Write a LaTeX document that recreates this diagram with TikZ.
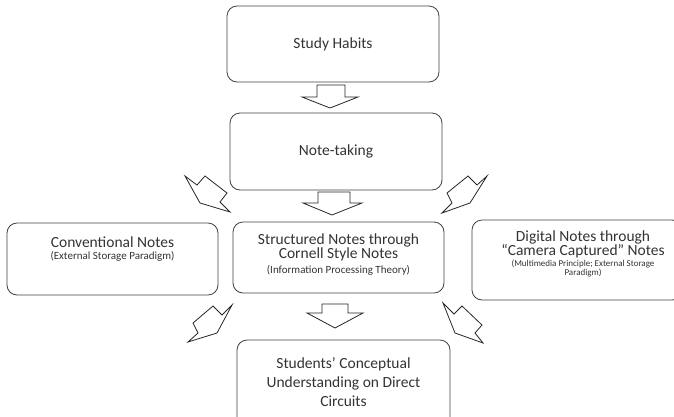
\documentclass[tikz,border=0pt]{standalone}
\usepackage{fontspec}
\setmainfont{Carlito}
\begin{document}
\begin{tikzpicture}[x=1pt,y=-1pt,
  box/.style={draw=black!75, line width=0.8pt, rounded corners=10pt, align=center, inner sep=0pt},
  blk/.style={draw=black!85, line width=0.8pt, fill=white, line join=miter},
  txt/.style={text=black!80, align=center, inner sep=0pt},
  big/.style={txt, font=\fontsize{15.5}{14}\selectfont},
  sm/.style={txt, font=\fontsize{11}{12}\selectfont},
  tiny/.style={txt, font=\fontsize{9}{9.5}\selectfont}]
\useasboundingbox (0,0) rectangle (674,416);
% boxes
\node[box, minimum width=212pt, minimum height=76pt] (study) at (333,44) {};
\node[big] at (study.center) {Study Habits};
\node[box, minimum width=212pt, minimum height=77pt] (note) at (336,151.5) {};
\node[big] at (note.center) {Note-taking};
\node[box, minimum width=211pt, minimum height=71pt] (struct) at (338.5,257.5) {};
\node[big] at (338.5,247) {Structured Notes through\\Cornell Style Notes};
\node[sm] at (338.5,270) {(Information Processing Theory)};
\node[box, minimum width=211pt, minimum height=72pt] (conv) at (112.5,259) {};
\node[big] at (112.5,242) {Conventional Notes};
\node[sm] at (112.5,256) {(External Storage Paradigm)};
\node[box, minimum width=210pt, minimum height=80pt] (digit) at (577,260) {};
\node[big] at (583,244.5) {Digital Notes through\\“Camera Captured” Notes};
\node[tiny] at (583,268.5) {(Multimedia Principle; External Storage\\Paradigm)};
\node[box, minimum width=213pt, minimum height=90pt] (stud) at (343.5,385) {};
\node[big, font=\fontsize{15.5}{19}\selectfont] at (343.5,382) {Students’ Conceptual\\Understanding on Direct\\Circuits};
% vertical block arrows
\draw[blk] (317,85) -- (345,85) -- (345,97) -- (358,97) -- (330,108) -- (302,97) -- (317,97) -- cycle;
\draw[blk] (318,192) -- (350,192) -- (350,203) -- (362,203) -- (332,215) -- (303,203) -- (318,203) -- cycle;
\draw[blk] (322,304) -- (348,304) -- (348,313) -- (363,313) -- (335,328) -- (307,313) -- (322,313) -- cycle;
% diagonal block arrows
\draw[blk] (185,176) -- (197,185) -- (205,176) -- (227,193) -- (220,202) -- (230,212) -- (200,203) -- cycle;
\draw[blk] (468,176) -- (477,185) -- (487,176) -- (470,203) -- (442,213) -- (452,203) -- (447,193) -- cycle;
\draw[blk] (213,306) -- (222,315) -- (232,305) -- (217,333) -- (188,342) -- (198,333) -- (193,323) -- cycle;
\draw[blk] (443,303) -- (454,314) -- (462,306) -- (482,325) -- (475,333) -- (483,343) -- (455,333) -- cycle;
\end{tikzpicture}
\end{document}
